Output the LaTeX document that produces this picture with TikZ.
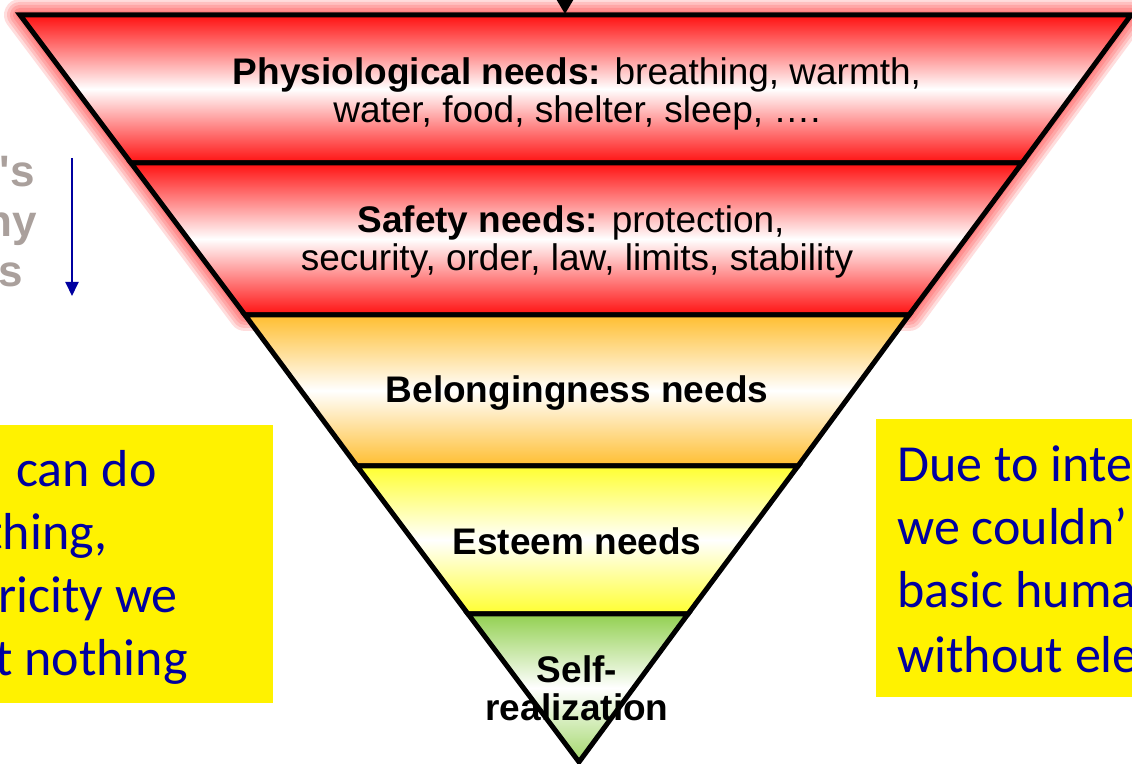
\documentclass[tikz,border=0pt]{standalone}
\usepackage{fontspec}
\setmainfont{Liberation Sans}
\newfontfamily\calibri{Carlito}
\usetikzlibrary{arrows.meta}
\definecolor{needred}{HTML}{FF1010}
\definecolor{needorange}{HTML}{FFBE30}
\definecolor{needyellow}{HTML}{FFFF30}
\definecolor{needgreen}{HTML}{92D050}
\definecolor{noteblue}{HTML}{0000A0}
\definecolor{titlegray}{HTML}{AAA09C}
\begin{document}
\begin{tikzpicture}[x=0.5pt,y=-0.5pt]
  \tikzstyle{layer}=[draw=black, line width=2.5pt, line join=miter]
  \tikzstyle{lbl}=[anchor=base, inner sep=0pt, font=\fontsize{18.5}{19}\selectfont]
  \tikzstyle{note}=[inner sep=0pt, text=noteblue, font=\calibri\fontsize{26}{31}\selectfont]
  \tikzstyle{notebox}=[fill=yellow, inner sep=0pt]
  \tikzstyle{titlefrag}=[anchor=base east, inner sep=0pt, text=titlegray, font=\bfseries\fontsize{22}{26}\selectfont]
  \useasboundingbox (0,0) rectangle (1132,764);
  \clip (0,0) rectangle (1132,764);
  % corners of the layers
  \coordinate (L0) at (20,15);   \coordinate (R0) at (1131,15);
  \coordinate (L1) at (131,163); \coordinate (R1) at (1022,163);
  \coordinate (L2) at (245,315); \coordinate (R2) at (909,315);
  \coordinate (L3) at (357,466); \coordinate (R3) at (798,466);
  \coordinate (L4) at (468,614); \coordinate (R4) at (688,614);
  \coordinate (A)  at (579,762);
  % red glow round the two upper layers
  \foreach \w in {16,13,10,7,4}
    \draw[needred, opacity=0.14, line width=\w pt, line join=round] (L0) -- (R0) -- (R2) -- (L2) -- cycle;
  % layers
  \draw[layer, top color=needred, bottom color=needred, middle color=white] (L0) -- (R0) -- (R1) -- (L1) -- cycle;
  \draw[layer, top color=needred, bottom color=needred, middle color=white] (L1) -- (R1) -- (R2) -- (L2) -- cycle;
  \draw[layer, top color=needorange, bottom color=needorange, middle color=white] (L2) -- (R2) -- (R3) -- (L3) -- cycle;
  \draw[layer, top color=needyellow, bottom color=needyellow, middle color=white] (L3) -- (R3) -- (R4) -- (L4) -- cycle;
  \draw[layer, top color=needgreen, bottom color=needgreen!85, middle color=white] (L4) -- (R4) -- (A) -- cycle;
  % arrow into the top
  \coordinate (inTop) at (565,-40);
  \coordinate (inTip) at (565,14);
  \draw[line width=1pt, -{Triangle[length=7pt,width=8pt]}] (inTop) -- (inTip);
  % labels of the layers
  \node[lbl] (phys1) at (577,85)  {\textbf{Physiological needs:} breathing, warmth,};
  \node[lbl] (phys2) at (577,123) {water, food, shelter, sleep, ….};
  \node[lbl] (safe1) at (571,233) {\textbf{Safety needs:} protection,};
  \node[lbl] (safe2) at (577,271) {security, order, law, limits, stability};
  \node[lbl] (belong) at (577,403) {\textbf{Belongingness needs}};
  \node[lbl] (esteem) at (577,555) {\textbf{Esteem needs}};
  \node[lbl] (self1) at (577,683) {\textbf{Self-}};
  \node[lbl] (self2) at (577,721) {\textbf{realization}};
  % title on the left, cut off
  \node[titlefrag] (title1) at (35,187) {\textquotesingle s};
  \node[titlefrag] (title2) at (37,237) {ny};
  \node[titlefrag] (title3) at (23,287) {s};
  \coordinate (arrA) at (72,158);
  \coordinate (arrB) at (72,296);
  \draw[noteblue, line width=1pt, -{Triangle[length=7pt,width=6.5pt]}] (arrA) -- (arrB);
  % yellow notes
  \node[notebox, minimum width=136.5pt, minimum height=139pt] (lbox) at (136.5,564) {};
  \node[notebox, minimum width=142pt, minimum height=139pt] (rbox) at (1018,558) {};
  \node[note, anchor=base east] (lnote1) at (157,487) {can do};
  \node[note, anchor=base east] (lnote2) at (108,550) {thing,};
  \node[note, anchor=base east] (lnote3) at (178,613) {ricity we};
  \node[note, anchor=base east] (lnote4) at (188,676) {t nothing};
  \node[note, anchor=base west] (rnote1) at (897,482) {Due to inte};
  \node[note, anchor=base west] (rnote2) at (897,545) {we couldn’};
  \node[note, anchor=base west] (rnote3) at (897,608) {basic huma};
  \node[note, anchor=base west] (rnote4) at (897,673) {without ele};
\end{tikzpicture}
\end{document}
